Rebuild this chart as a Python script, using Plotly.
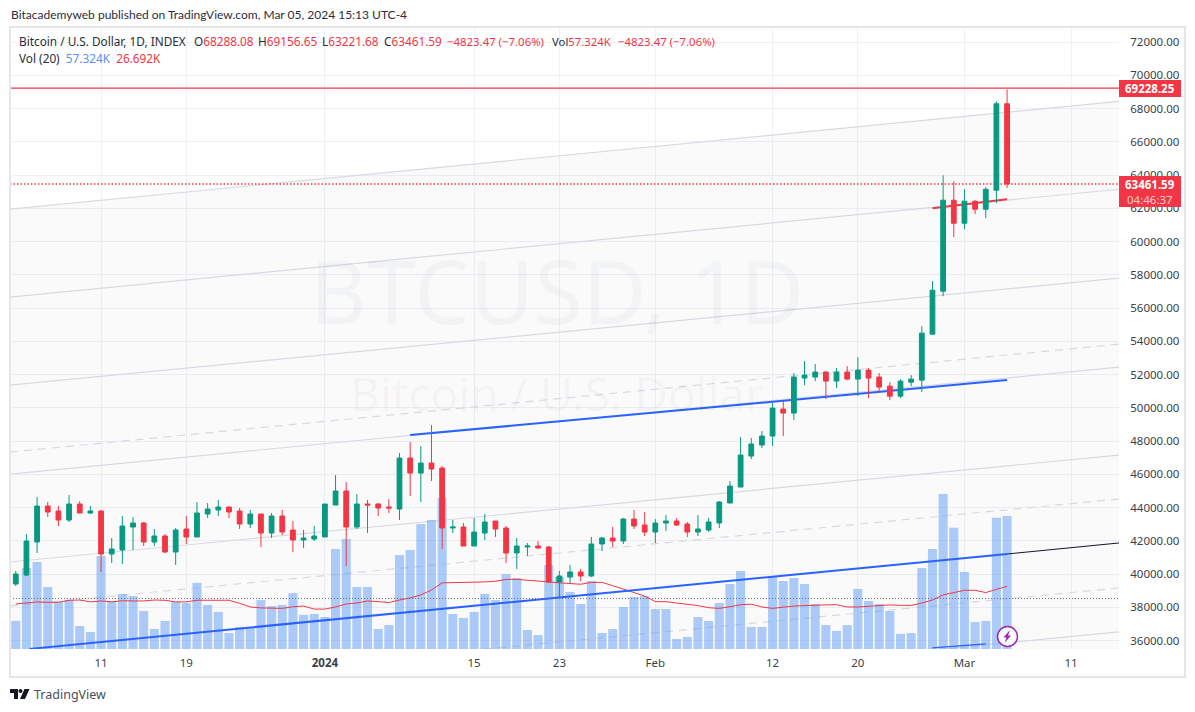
import pandas as pd
import plotly.graph_objects as go

# ---------- data ----------
opens = [39402,39943,41927,44092,43791,43250,44212,43671,43791,41206,41446,42829,43070,41927,42288,41326,42709,42228,43611,43851,44032,43791,43010,43611,42468,43490,42649,42048,42108,
42228,44152,44994,42829,44212,44212,44032,43911,46977,46076,46677,46376,42769,42829,41687,42468,43190,42769,41266,41627,41687,41627,39522,39823,40124,39883,41807,42168,41987,43310,42949,
42528,43069,43190,43009,42528,42649,43069,44272,45234,47098,47759,48300,49923,49683,51787,51847,52148,51606,52148,51727,52268,51847,51303,50702,51543,51664,54429,57014,62485,
61102,62425,61944,63086,68288]
highs = [40184,42408,44633,44332,44092,44753,44392,44092,43851,42168,43490,43430,43130,42709,42408,42769,43490,44332,44272,44453,44032,43971,43851,43611,43671,43851,43190,42649,42889,
44212,45955,45534,44813,44453,44272,44513,47278,47939,47699,48961,46496,43250,43070,43370,43611,43190,42889,42168,41867,41987,41687,40184,40545,40304,42228,42228,42829,43370,43851,43731,
43310,43551,43370,43129,43550,43370,44392,45594,48240,48180,48600,50284,50404,52087,52809,52628,52208,52388,52508,53049,52388,52087,51543,51724,51964,54910,57615,63988,63627,
63146,62485,63267,68437,69157]
lows = [39282,39883,41266,43430,42889,43130,43671,43611,40124,40665,40605,41446,41687,41687,41266,40545,41807,42228,43370,43490,43370,42709,42769,41627,42168,42348,41326,41567,41987,
42228,44152,40485,42709,42468,43490,43671,43250,44693,44332,45595,41506,42468,41687,41687,42048,42228,40665,40304,41086,41507,39462,38561,39462,39583,39823,41386,41627,41807,42709,42288,
41867,42588,42889,42228,42288,42528,42769,44272,45234,46917,47578,47699,48300,49262,51366,51606,50524,51186,51667,50705,50584,50885,50461,50581,51303,50942,54429,56714,60261,
60742,61644,61403,62305,63222]
closes = [40004,41987,44092,43731,43250,44212,43671,43791,41206,41506,42889,43070,41927,42288,41326,42649,42228,43671,43911,44032,43731,43010,43611,42468,43490,42529,42048,42168,42288,
44212,44994,42829,44212,44152,43971,43971,46977,46076,46677,46316,42769,42829,41687,42528,43130,42709,41266,41687,41687,41567,39522,39883,40124,39883,41807,42168,41987,43310,42889,42528,
43069,43190,42949,42528,42709,43129,44332,45294,47158,47819,48300,49983,49683,51847,51967,52148,51606,52148,51727,52268,51787,51246,50702,51604,51724,54489,57074,62485,61102,
62425,61944,63146,68288,63461]
volume_k = [12.1,34.9,37.5,26.7,20.3,21.1,9.9,7.3,40.1,20.7,23.7,22.8,16.4,8.6,12.1,20.3,19.8,28.5,19.0,16.0,6.9,9.5,9.1,21.1,18.5,19.0,24.1,14.7,15.1,
13.8,43.1,47.4,26.7,26.7,8.6,10.3,40.5,42.7,53.9,55.6,65.1,15.1,13.4,16.0,23.7,21.1,32.3,30.6,8.2,6.0,36.2,31.0,24.6,19.4,29.3,6.9,8.6,18.1,22.4,22.8,
17.2,17.2,4.3,5.2,13.8,12.1,19.8,28.0,33.6,9.5,9.5,31.0,29.3,30.6,28.0,19.4,10.3,7.8,10.3,25.9,20.7,19.4,16.4,6.5,6.9,34.9,43.1,66.8,52.2,
33.2,11.6,12.1,56.5,57.3]
volume_ma_k = [19.4,20.0,20.3,20.1,20.1,21.0,21.1,20.3,20.7,20.3,20.8,20.7,20.7,21.1,21.0,20.3,20.3,21.0,21.0,21.0,21.0,19.7,18.1,17.7,17.5,17.5,18.2,18.5,17.2,
17.2,18.1,19.4,19.8,20.7,20.4,20.0,21.1,22.0,23.3,25.4,28.5,28.6,28.5,28.6,28.9,29.2,30.0,30.0,29.7,29.5,28.9,28.5,28.2,27.9,28.7,28.7,27.3,25.7,24.1,22.8,
20.4,20.4,19.8,19.3,18.7,17.8,17.5,18.2,19.1,19.3,18.1,17.5,18.1,18.5,18.7,19.0,19.0,19.1,18.1,18.1,18.4,18.5,19.0,18.8,18.8,19.8,21.1,23.3,24.3,
25.3,25.3,24.3,25.7,27.0]
dates = pd.date_range("2023-12-03", periods=len(closes), freq="D")

axis_start = "2023-12-02 11:00"
axis_end = "2024-03-15 12:00"
price_range = [35492, 72905]
volume_range = [0, 268]

# parallel channel lines: price at axis start, price at axis end, dash
channel_left = [61945, 56656, 51366, 47339, 46016, 40726, 38082, 32732, 30087]
channel_right = [68437, 63147, 57798, 53830, 52448, 47158, 44513, 39164, 36519]
channel_dash = ["solid", "solid", "solid", "dash", "solid", "solid", "dash", "dash", "solid"]

# drawn trend lines: start date, end date, start price, end price, colour, width
trend_start = ["2023-12-04 07:00", "2024-01-09", "2024-02-27", "2024-02-27", "2024-03-05"]
trend_end = ["2024-03-05", "2024-03-05", "2024-03-05", "2024-03-03", axis_end]
trend_p0 = [35497, 48360, 62005, 35557, 41207]
trend_p1 = [41207, 51666, 62546, 35797, 41869]
trend_color = ["#2962ff", "#2962ff", "#f23645", "#2962ff", "#131722"]
trend_width = [2, 2, 2, 1.2, 1]

last_price = 63461.59
high_price = 69228.25
volume_level = 38532

tick_dates = ["2023-12-11", "2023-12-19", "2024-01-01", "2024-01-15", "2024-01-23",
              "2024-02-01", "2024-02-12", "2024-02-20", "2024-03-01", "2024-03-11"]
tick_text = ["11", "19", "<b>2024</b>", "15", "23", "Feb", "12", "20", "Mar", "11"]

UP, DOWN = "#089981", "#f23645"
TXT = "#3c3f4a"
FONT = "Noto Sans"


def px(x):
    return (x - 10) / 1109


def py(y):
    return (649 - y) / 622


fig = go.Figure()

# base layer: channel fill and grey lines (price scale, hidden)
fig.add_trace(go.Scatter(x=[axis_start, axis_end], y=[channel_left[0], channel_right[0]], yaxis="y",
                         mode="lines", line=dict(width=0), fill="tozeroy",
                         fillcolor="rgba(100,100,130,0.03)", hoverinfo="skip"))
for l, r, d in zip(channel_left, channel_right, channel_dash):
    fig.add_trace(go.Scatter(x=[axis_start, axis_end], y=[l, r], yaxis="y", mode="lines",
                             line=dict(color="#d9d9e2", width=1.2, dash="8px,6px" if d == "dash" else "solid"),
                             hoverinfo="skip"))

# volume layer
fig.add_trace(go.Bar(x=dates, y=volume_k, yaxis="y2", marker=dict(color="rgba(101,159,243,0.53)", line_width=0)))
fig.add_trace(go.Scatter(x=dates, y=volume_ma_k, yaxis="y2", mode="lines",
                         line=dict(color=DOWN, width=1)))

# drawn lines layer
for s, e, a, b, c, w in zip(trend_start, trend_end, trend_p0, trend_p1, trend_color, trend_width):
    fig.add_trace(go.Scatter(x=[s, e], y=[a, b], yaxis="y3", mode="lines", line=dict(color=c, width=w)))
fig.add_trace(go.Scatter(x=[axis_start, axis_end], y=[high_price, high_price], yaxis="y3", mode="lines",
                         line=dict(color=DOWN, width=1.2)))
fig.add_trace(go.Scatter(x=[axis_start, axis_end], y=[last_price, last_price], yaxis="y3", mode="lines",
                         line=dict(color=DOWN, width=1.4, dash="1.5px,2px")))
fig.add_trace(go.Scatter(x=[axis_start, axis_end], y=[volume_level, volume_level], yaxis="y3", mode="lines",
                         line=dict(color="#6a6d78", width=1, dash="1px,2px")))

# candles on the visible price scale
fig.add_trace(go.Candlestick(x=dates, open=opens, high=highs, low=lows, close=closes, yaxis="y4",
                             increasing=dict(line=dict(color=UP, width=1), fillcolor=UP),
                             decreasing=dict(line=dict(color=DOWN, width=1), fillcolor=DOWN),
                             whiskerwidth=0))

hidden = dict(range=price_range, visible=False, fixedrange=True)
fig.update_layout(
    width=1195, height=712, showlegend=False, paper_bgcolor="white", plot_bgcolor="white",
    margin=dict(l=10, r=76, t=27, b=63), bargap=0.15, boxgap=0.36, dragmode=False, hovermode=False,
    font=dict(family=FONT, size=12, color=TXT),
    xaxis=dict(range=[axis_start, axis_end], type="date", tickvals=tick_dates, ticktext=tick_text,
               showgrid=True, gridcolor="#eff1f5", gridwidth=1, rangeslider=dict(visible=False),
               showline=False, zeroline=False, ticks="outside", ticklen=3, tickcolor="rgba(0,0,0,0)",
               tickfont=dict(family=FONT, size=11.5, color=TXT), fixedrange=True),
    yaxis=dict(**hidden),
    yaxis2=dict(range=volume_range, overlaying="y", visible=False, fixedrange=True),
    yaxis3=dict(overlaying="y", **hidden),
    yaxis4=dict(range=price_range, overlaying="y", side="right", dtick=2000, tick0=0, tickformat=".2f",
                showgrid=True, gridcolor="#eff1f5", gridwidth=1, zeroline=False, showline=False,
                ticks="outside", ticklen=8, tickcolor="rgba(0,0,0,0)",
                tickfont=dict(family=FONT, size=11.5, color=TXT), fixedrange=True),
)

shapes = [
    dict(type="rect", xref="paper", yref="paper", x0=px(10), x1=px(1185), y0=py(677), y1=py(27),
         line=dict(color="#e6e6e6", width=2), fillcolor="rgba(0,0,0,0)"),
    dict(type="rect", xref="paper", yref="paper", x0=px(1119), x1=px(1181), y0=py(97), y1=py(80),
         line_width=0, fillcolor=DOWN),
    dict(type="rect", xref="paper", yref="paper", x0=px(1119), x1=px(1181), y0=py(207), y1=py(176),
         line_width=0, fillcolor=DOWN),
    # TradingView mark
    dict(type="path", xref="paper", yref="paper", line_width=0, fillcolor="#131722",
         path=f"M{px(10)},{py(689)} L{px(18)},{py(689)} L{px(18)},{py(699)} L{px(14)},{py(699)} L{px(14)},{py(693)} L{px(10)},{py(693)} Z"),
    dict(type="circle", xref="paper", yref="paper", line_width=0, fillcolor="#131722",
         x0=px(18.5), x1=px(22.5), y0=py(693), y1=py(689)),
    dict(type="path", xref="paper", yref="paper", line_width=0, fillcolor="#131722",
         path=f"M{px(24.5)},{py(689)} L{px(29.5)},{py(689)} L{px(25)},{py(699)} L{px(20)},{py(699)} Z"),
    # alert badge
    dict(type="circle", xref="paper", yref="paper", line=dict(color="#9c27b0", width=1.5), fillcolor="white",
         x0=px(997.5), x1=px(1017.5), y0=py(646.5), y1=py(626.5)),
    dict(type="path", xref="paper", yref="paper", line_width=0, fillcolor="#9c27b0",
         path=f"M{px(1010)},{py(630)} L{px(1003.5)},{py(637.5)} L{px(1006.5)},{py(637.5)} L{px(1004.5)},{py(643)} L{px(1011)},{py(635.5)} L{px(1008)},{py(635.5)} Z"),
]
fig.update_layout(shapes=shapes)


def note(x, y, text, size=12, color=TXT, anchor="left", font=FONT):
    fig.add_annotation(xref="paper", yref="paper", x=px(x), y=py(y), text=text, showarrow=False,
                       xanchor=anchor, yanchor="middle", align=anchor,
                       font=dict(family=font, size=size, color=color), borderpad=0)


note(10, 14, "Bitacademyweb published on TradingView.com, Mar 05, 2024 15:13 UTC-4", size=12, color="#2a2e39", font="Lato")
r = '<span style="color:#f23645">%s</span>'
DARK = "#2a2e39"
change_text = "&#8722;4823.47 (&#8722;7.06%)"
note(18, 41, "Bitcoin / U.S. Dollar, 1D, INDEX", size=11.8, color=DARK)
note(193, 41, "O" + r % "68288.08", size=11.8, color=DARK)
note(257, 41, "H" + r % "69156.65", size=11.8, color=DARK)
note(321, 41, "L" + r % "63221.68", size=11.8, color=DARK)
note(383, 41, "C" + r % "63461.59", size=11.8, color=DARK)
note(446, 41, r % change_text, size=11.4, color=DARK)
note(551, 41, "Vol" + r % "57.324K", size=11.3, color=DARK)
note(617, 41, r % change_text, size=11.4, color=DARK)
note(18, 58, 'Vol (20)&nbsp;&nbsp;<span style="color:#5b8ff9">57.324K</span>&nbsp;&nbsp;' + r % "26.692K",
     size=11.8, color=DARK)
note(1150, 88.5, "<b>69228.25</b>", size=11.5, color="white", anchor="center")
note(1150, 184, "<b>63461.59</b>", size=11.5, color="white", anchor="center")
note(1150, 199, "04:46:37", size=11.5, color="rgba(255,255,255,0.75)", anchor="center")
note(33, 694, "TradingView", size=12.5, color="#4a4e59")
note(557, 290, "BTCUSD, 1D", size=88, color="rgba(42,46,57,0.035)", anchor="center")
note(557, 393, "Bitcoin / U.S. Dollar", size=46, color="rgba(42,46,57,0.035)", anchor="center")

fig.write_html("out.html", config={"displayModeBar": False}, post_script="document.body.style.margin='0';")
